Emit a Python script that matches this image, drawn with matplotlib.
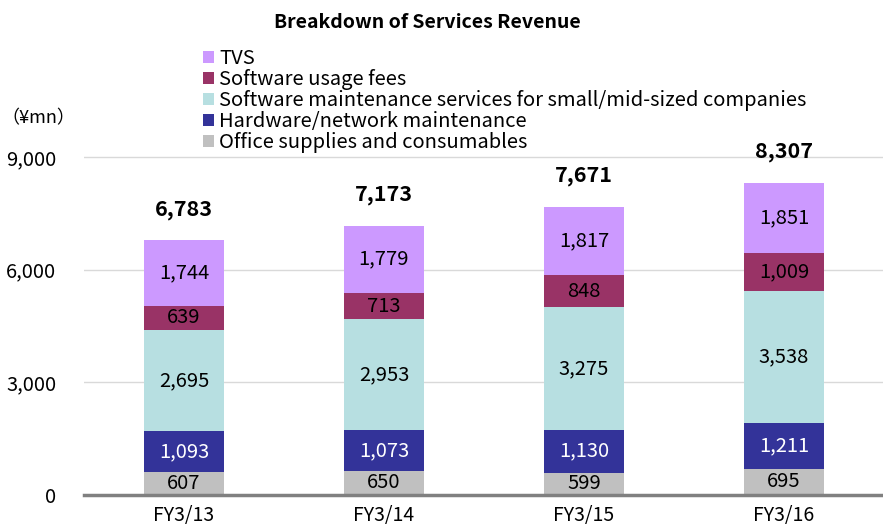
import matplotlib.pyplot as plt
import numpy as np

plt.rcParams['font.family'] = ['Noto Sans CJK JP', 'DejaVu Sans']

#data
years = ['FY3/13', 'FY3/14', 'FY3/15', 'FY3/16']
office = [607, 650, 599, 695]
hardware = [1093, 1073, 1130, 1211]
swMaint = [2695, 2953, 3275, 3538]
swUsage = [639, 713, 848, 1009]
tvs = [1744, 1779, 1817, 1851]
totals = [6783, 7173, 7671, 8307]

series = [
    ('Office supplies and consumables', office, '#C0C0C0', 'black'),
    ('Hardware/network maintenance', hardware, '#333399', 'white'),
    ('Software maintenance services for small/mid-sized companies', swMaint, '#B7DFE1', 'black'),
    ('Software usage fees', swUsage, '#993366', 'black'),
    ('TVS', tvs, '#CC99FF', 'black'),
]

fig = plt.figure(figsize=(8.83, 5.29), dpi=100)
ax = fig.add_axes([84/883, (529-495)/529, 800/883, (495-157)/529*10000/9000])

x = np.arange(len(years))
bottom = np.zeros(len(years))
handles = []
for name, vals, col, tcol in series:
    bars = ax.bar(x, vals, 0.40, bottom=bottom, color=col, label=name, zorder=3)
    handles.append(bars)
    for xi, b, v in zip(x, bottom, vals):
        ax.text(xi, b + v/2, f'{v:,}', ha='center', va='center', fontsize=14.5, color=tcol, zorder=4)
    bottom += np.array(vals)

for xi, t in zip(x, totals):
    ax.text(xi, t + 830, f'{t:,}', ha='center', va='center', fontsize=15.5, fontweight='bold')

ax.set_xlim(-0.5, 3.5)
ax.set_ylim(0, 10000)
ax.set_yticks([0, 3000, 6000, 9000])
ax.set_yticklabels(['0', '3,000', '6,000', '9,000'], fontsize=14.5)
ax.set_xticks(x)
ax.set_xticklabels(years, fontsize=14)
ax.tick_params(length=0)
ax.tick_params(axis='y', pad=20)
ax.tick_params(axis='x', pad=7)
ax.grid(axis='y', color='#D9D9D9', linewidth=1, zorder=0)
for s in ['top', 'right', 'left']:
    ax.spines[s].set_visible(False)
ax.spines['bottom'].set_color('#808080')
ax.spines['bottom'].set_linewidth(2.5)
ax.spines['bottom'].set_zorder(5)

fig.text(427/883, 1 - 23/529, 'Breakdown of Services Revenue', ha='center', va='center',
         fontsize=14, fontweight='bold')
fig.text(38/883, 1 - 118/529, '（¥mn）', ha='center', va='center', fontsize=13)

leg = fig.legend(handles[::-1], [s[0] for s in series][::-1], loc='upper left',
                 bbox_to_anchor=(203/883, 1 - 48/529), frameon=False, fontsize=14.5,
                 handlelength=0.55, handleheight=0.55, handletextpad=0.25,
                 labelspacing=0.0, borderaxespad=0, borderpad=0)

fig.savefig('out.png', dpi=100)
